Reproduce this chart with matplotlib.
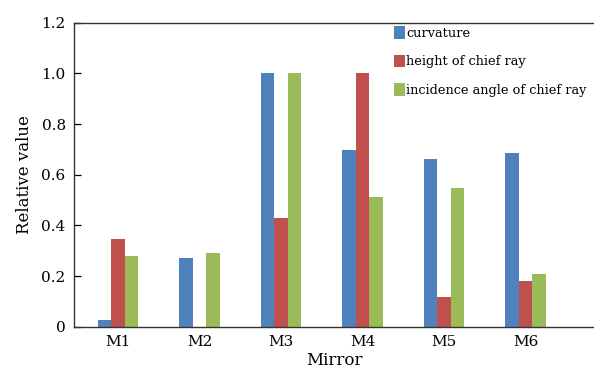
import matplotlib.pyplot as plt
import numpy as np

mirrors = ['M1', 'M2', 'M3', 'M4', 'M5', 'M6']
curvature = [0.026, 0.27, 1.0, 0.696, 0.663, 0.684]
height = [0.345, 0.0, 0.428, 1.0, 0.117, 0.182]
incidence = [0.279, 0.292, 1.0, 0.513, 0.546, 0.208]
labels = ['curvature', 'height of chief ray', 'incidence angle of chief ray']
colors = ['#4F81BD', '#C0504D', '#9BBB59']

plt.rcParams['font.family'] = 'DejaVu Serif'

fig = plt.figure(figsize=(5.94, 3.74), dpi=100)
ax = fig.add_axes([74 / 594, 47.3 / 374, 1 - 74 / 594, (326.7 - 22.7) / 374])

x = np.arange(len(mirrors))
w = 0.165
for i, (vals, lab, c) in enumerate(zip([curvature, height, incidence], labels, colors)):
    ax.bar(x + (i - 1) * w, vals, w, color=c, label=lab, linewidth=0)

ax.set_xlim(-0.54, 5.84)
ax.set_ylim(0, 1.2)
ax.set_xticks(x)
ax.set_xticklabels(mirrors, fontsize=11)
ax.set_yticks(np.arange(0, 1.21, 0.2))
ax.set_yticklabels(['0', '0.2', '0.4', '0.6', '0.8', '1.0', '1.2'], fontsize=11)
ax.tick_params(axis='x', length=0, pad=6)
ax.tick_params(axis='y', direction='in', length=5, width=0.9, pad=6)
ax.spines['right'].set_visible(False)
for s in ['left', 'bottom', 'top']:
    ax.spines[s].set_linewidth(1.0)
    ax.spines[s].set_color('#333333')

ax.set_xlabel('Mirror', fontsize=12, labelpad=2)
ax.set_ylabel('Relative value', fontsize=12, labelpad=6)

ax.legend(loc='upper left', bbox_to_anchor=(394 / 594, 1 - 26 / 374),
          bbox_transform=fig.transFigure, frameon=False, fontsize=9.3,
          handlelength=0.85, handleheight=1.15, handletextpad=0.1,
          labelspacing=1.15, borderpad=0, borderaxespad=0)

fig.savefig('out.png', dpi=100)
